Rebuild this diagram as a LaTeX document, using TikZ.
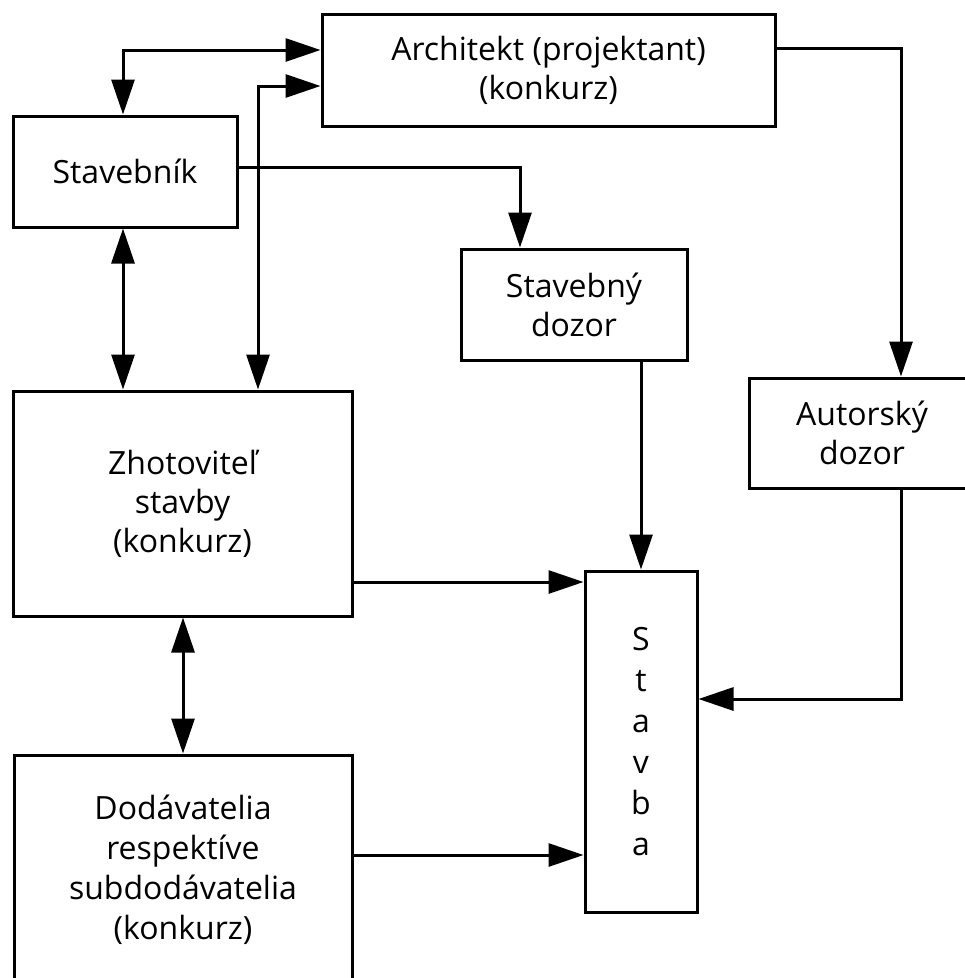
\documentclass[tikz,border=0pt]{standalone}
\usepackage{fontspec}
\setmainfont{Open Sans}
\usetikzlibrary{arrows.meta}
\begin{document}
\begin{tikzpicture}[x=1pt,y=-1pt,
  box/.style={draw,line width=3pt,inner sep=0pt,align=center,font=\fontsize{32}{39}\selectfont},
  conn/.style={line width=3pt},
  tip/.tip={Triangle[length=35pt,width=23pt]},
  one/.style={conn,-tip},
  two/.style={conn,tip-tip}]
\useasboundingbox (0,0) rectangle (965,978);
\node[box,minimum width=453pt,minimum height=112pt] (arch) at (548.5,70) {Architekt (projektant)\\(konkurz)};
\node[box,minimum width=224pt,minimum height=111pt] (stb) at (125,171.5) {Stavebník};
\node[box,minimum width=226pt,minimum height=111pt] (sd) at (574,304.5) {Stavebný\\dozor};
\node[box,minimum width=226pt,minimum height=110pt] (ad) at (862,433) {Autorský\\dozor};
\node[box,minimum width=339pt,minimum height=225pt] (zh) at (182.5,503.5) {Zhotoviteľ\\stavby\\(konkurz)};
\node[box,minimum width=112pt,minimum height=341pt,font=\fontsize{32}{41}\selectfont] (st) at (641,741.5) {S\\t\\a\\v\\b\\a};
\node[box,minimum width=338pt,minimum height=230pt,font=\fontsize{32}{40}\selectfont] (dod) at (183,870) {Dodávatelia\\respektíve\\subdodávatelia\\(konkurz)};
% connectors
\draw[two] (stb.north -| 123,0) |- (arch.west |- 0,50);
\draw[two] (zh.north -| 258,0) |- (arch.west |- 0,86);
\draw[one] (stb.east |- 0,167) -| (sd.north -| 520,0);
\draw[two] (stb.south -| 123,0) -- (zh.north -| 123,0);
\draw[one] (arch.east |- 0,48) -| (ad.north -| 901,0);
\draw[one] (sd.south -| 641,0) -- (st.north);
\draw[one] (ad.south -| 901,0) |- (st.east |- 0,699);
\draw[one] (zh.east |- 0,582) -- (st.west |- 0,582);
\draw[two] (zh.south -| 183,0) -- (dod.north -| 183,0);
\draw[one] (dod.east |- 0,855) -- (st.west |- 0,855);
\end{tikzpicture}
\end{document}
